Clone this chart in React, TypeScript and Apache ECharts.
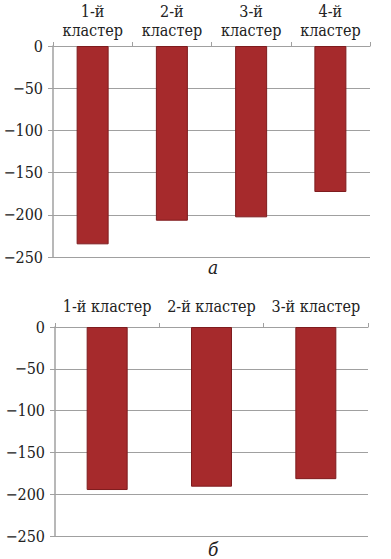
import React, { useEffect, useRef } from "react";
import * as echarts from "echarts";

const categoriesA = ["1-й кластер", "2-й кластер", "3-й кластер", "4-й кластер"];
const valuesA = [-235, -207, -203, -173];
const categoriesB = ["1-й кластер", "2-й кластер", "3-й кластер"];
const valuesB = [-195, -191, -182];
const captionA = "а";
const captionB = "б";

const FONT = "DejaVu Serif Condensed, DejaVu Serif";
const BAR = "#a62a2c";
const BORDER = "#7e1c1e";
const GRID = "#a0a0a0";
const TEXT = "#222222";

export default function App() {
  const ref = useRef<HTMLDivElement>(null);
  useEffect(() => {
    document.body.style.margin = "0";
    const chart = echarts.init(ref.current!, null, { renderer: "svg" });
    const yAxisBase = (gridIndex: number) => ({
      type: "value" as const,
      gridIndex,
      min: -250,
      max: 0,
      interval: 50,
      axisLine: { show: true, lineStyle: { color: GRID, width: 1.5 } },
      axisTick: { show: true, length: 5, lineStyle: { color: GRID } },
      splitLine: { show: true, lineStyle: { color: GRID, width: 1.2 } },
      axisLabel: {
        color: TEXT,
        fontFamily: FONT,
        fontSize: 16,
        margin: 10,
        formatter: (v: number) => (v < 0 ? "\u2212" + Math.abs(v) : String(v)),
      },
    });
    const xAxisBase = (gridIndex: number, data: string[], multi: boolean, margin: number) => ({
      type: "category" as const,
      gridIndex,
      position: "top" as const,
      data,
      axisLine: { show: true, lineStyle: { color: GRID, width: 1.2 } },
      axisTick: { show: true, length: 4, lineStyle: { color: GRID } },
      axisLabel: {
        color: TEXT,
        fontFamily: FONT,
        fontSize: 16,
        lineHeight: 19,
        margin,
        interval: 0,
        formatter: (s: string) => (multi ? s.replace(" ", "\n") : s),
      },
    });
    chart.setOption({
      animation: false,
      backgroundColor: "#ffffff",
      textStyle: { fontFamily: FONT },
      grid: [
        { left: 53, top: 46, width: 317, height: 211 },
        { left: 55, top: 327, width: 313, height: 209 },
      ],
      xAxis: [xAxisBase(0, categoriesA, true, 6), xAxisBase(1, categoriesB, false, 11)],
      yAxis: [yAxisBase(0), yAxisBase(1)],
      series: [
        {
          type: "bar",
          xAxisIndex: 0,
          yAxisIndex: 0,
          data: valuesA,
          barWidth: 32,
          itemStyle: { color: BAR, borderColor: BORDER, borderWidth: 1 },
        },
        {
          type: "bar",
          xAxisIndex: 1,
          yAxisIndex: 1,
          data: valuesB,
          barWidth: 41,
          itemStyle: { color: BAR, borderColor: BORDER, borderWidth: 1 },
        },
      ],
      graphic: [
        {
          type: "text",
          left: 208,
          top: 257,
          style: { text: captionA, fontFamily: FONT, fontSize: 19, fontStyle: "italic", fill: TEXT },
        },
        {
          type: "text",
          left: 208,
          top: 539,
          style: { text: captionB, fontFamily: FONT, fontSize: 19, fontStyle: "italic", fill: TEXT },
        },
      ],
    });
    return () => chart.dispose();
  }, []);
  return <div ref={ref} style={{ width: 391, height: 559 }} />;
}
